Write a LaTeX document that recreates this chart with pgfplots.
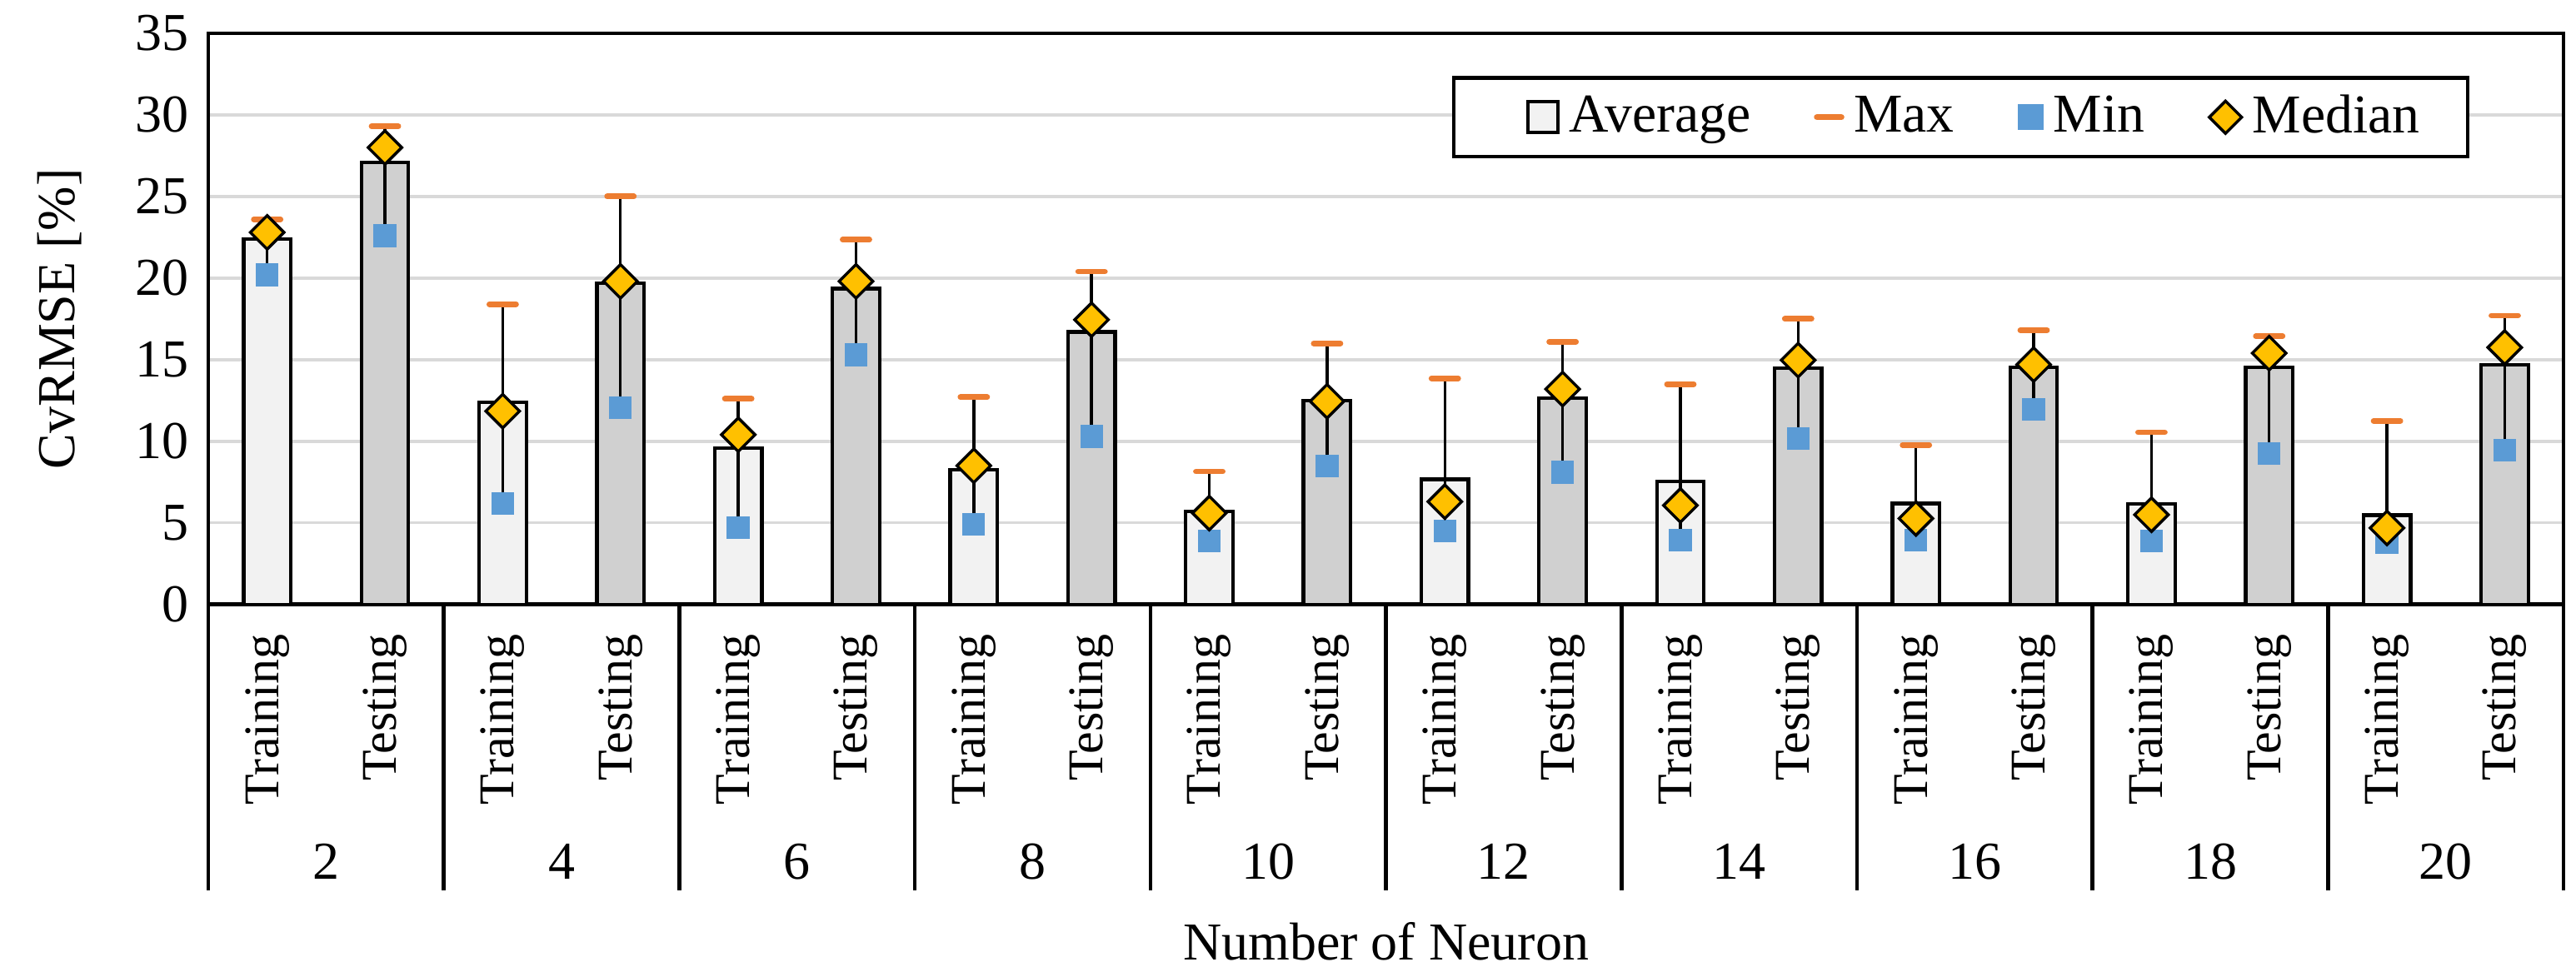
\documentclass[border=0pt]{standalone}
\usepackage{fontspec}
\setmainfont{Liberation Serif}
\usepackage{pgfplots}
\usepackage{pgfplotstable}
\pgfplotsset{compat=1.18}

\definecolor{trainfill}{HTML}{F2F2F2}
\definecolor{testfill}{HTML}{D0D0D0}
\definecolor{maxorange}{HTML}{ED7D31}
\definecolor{minblue}{HTML}{5B9BD5}
\definecolor{medyellow}{HTML}{FFC000}
\definecolor{gridgray}{HTML}{D9D9D9}

\pgfplotstableread{
x  avg    max    min    med
0  22.4   23.6   20.2   22.8
1  27.1   29.3   22.6   28.0
2  12.4   18.4   6.2    11.85
3  19.7   25.0   12.05  19.8
4  9.6    12.6   4.7    10.4
5  19.35  22.35  15.3   19.8
6  8.25   12.7   4.9    8.5
7  16.7   20.4   10.3   17.45
8  5.7    8.15   3.9    5.6
9  12.5   16.0   8.5    12.45
10 7.67   13.86  4.5    6.3
11 12.63  16.1   8.1    13.2
12 7.53   13.5   3.93   6.07
13 14.48  17.5   10.16  14.97
14 6.19   9.77   3.93   5.27
15 14.55  16.8   11.96  14.7
16 6.17   10.55  3.9    5.5
17 14.55  16.44  9.24   15.4
18 5.47   11.25  3.8    4.69
19 14.7   17.7   9.47   15.75
}\data

\begin{document}
\begin{tikzpicture}[font=\fontsize{10.5}{12.6}\selectfont]
\begin{axis}[
  name=ax,
  scale only axis,
  width=494.7pt, height=120pt,
  xmin=-0.5, xmax=19.5, ymin=0, ymax=35,
  ytick={0,5,...,35},
  /pgf/number format/assume math mode=true,
  ymajorgrids,
  grid style={color=gridgray, line width=0.6pt},
  axis line style={black, line width=0.8pt},
  tick align=outside,
  major tick length=0pt,
  minor tick length=60pt,
  xtick pos=bottom, ytick pos=left,
  xtick={0,...,19},
  xticklabels={Training,Testing,Training,Testing,Training,Testing,Training,Testing,Training,Testing,Training,Testing,Training,Testing,Training,Testing,Training,Testing,Training,Testing},
  xticklabel style={rotate=90, anchor=east},
  xticklabel shift=2.8pt,
  minor xtick={-0.5,1.5,...,19.5},
  minor x tick style={black, line width=0.8pt},
  yticklabel style={font=\fontsize{11.2}{13}\selectfont, xshift=-0.5pt},
  xlabel={Number of Neuron},
  xlabel style={font=\fontsize{11.2}{13}\selectfont, at={(axis description cs:0.5,-0.59)}, anchor=center},
  ylabel={CvRMSE [\%]},
  ylabel style={font=\fontsize{11.2}{13}\selectfont, at={(axis description cs:-0.063,0.5)}, anchor=center},
  legend style={at={(0.96,0.925)}, anchor=north east, legend columns=4,
    draw=black, line width=0.8pt, inner xsep=8pt, inner ysep=1.5pt,
    font=\fontsize{11.5}{13.5}\selectfont,
    /tikz/every odd column/.append style={column sep=0pt},
    /tikz/every even column/.append style={column sep=11.3pt}},
  clip=false,
]
\addplot[ybar, bar width=0.4, bar shift=0pt, fill=trainfill, draw=black, line width=0.75pt,
  legend image code/.code={\path[draw=none, fill=none] (-7.5pt,0pt) rectangle (0pt,0.1pt); \draw[fill=trainfill, draw=black, line width=0.7pt] (0pt,-3.2pt) rectangle (6.4pt,3.2pt);}]
  coordinates {(0,22.4) (2,12.4) (4,9.6) (6,8.25) (8,5.7) (10,7.67) (12,7.53) (14,6.19) (16,6.17) (18,5.47)};
\addlegendentry{Average}
\addplot[ybar, bar width=0.4, bar shift=0pt, fill=testfill, draw=black, line width=0.75pt, forget plot]
  coordinates {(1,27.1) (3,19.7) (5,19.35) (7,16.7) (9,12.5) (11,12.63) (13,14.48) (15,14.55) (17,14.55) (19,14.7)};
\addplot[only marks, mark=-, mark size=2.8pt,
  mark options={draw=maxorange, line width=1.2pt, line cap=round},
  error bars/.cd, y dir=minus, y explicit, error mark=none,
  error bar style={black, line width=0.6pt},
  /pgfplots/legend image code/.code={\draw[maxorange, line width=1.3pt, line cap=round] (0.5pt,0pt) -- (5.6pt,0pt);}]
  table[x=x, y=max, y error minus expr=\thisrow{max}-\thisrow{min}] {\data};
\addlegendentry{Max}
\addplot[only marks, mark=square*, mark size=2.3pt,
  mark options={draw=minblue, fill=minblue, line width=0pt},
  legend image code/.code={\fill[minblue] (0pt,-2.35pt) rectangle (4.7pt,2.35pt);}]
  table[x=x, y=min] {\data};
\addlegendentry{Min}
\addplot[only marks, mark=square*, mark size=2.5pt,
  mark options={rotate=45, draw=black, fill=medyellow, line width=0.6pt},
  legend image code/.code={\draw[fill=medyellow, draw=black, line width=0.6pt] (0pt,0pt) -- (3.4pt,3.4pt) -- (6.8pt,0pt) -- (3.4pt,-3.4pt) -- cycle;}]
  table[x=x, y=med] {\data};
\addlegendentry{Median}
\pgfplotsinvokeforeach{2,4,...,20}{
  \node[anchor=center, font=\fontsize{11.2}{13}\selectfont] at (axis cs:{#1-1.5},0) [yshift=-54pt] {#1};
}
\end{axis}
\pgfresetboundingbox
\path[use as bounding box] ([xshift=-43.75pt,yshift=-77.2pt]ax.south west) rectangle ([xshift=2.6pt,yshift=7pt]ax.north east);
\end{tikzpicture}
\end{document}
